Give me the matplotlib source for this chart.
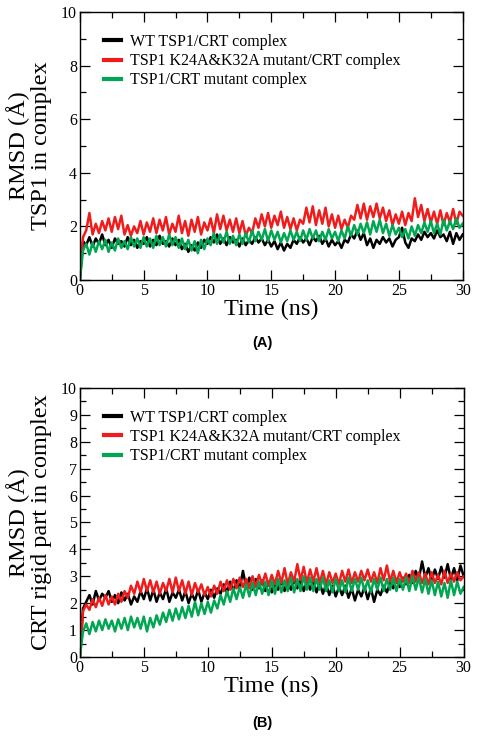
import numpy as np
import matplotlib.pyplot as plt
from matplotlib.ticker import MultipleLocator

# time axis, 0.25 ns steps
time_ns = np.arange(121) * 0.25

labels = ['WT TSP1/CRT complex',
          'TSP1 K24A&K32A mutant/CRT complex',
          'TSP1/CRT mutant complex']

# (A) RMSD of TSP1 in complex
black_a = [
    0.00, 1.45, 1.30, 1.60, 1.25, 1.55, 1.35, 1.70, 1.30, 1.50,
    1.20, 1.55, 1.35, 1.45, 1.25, 1.60, 1.30, 1.50, 1.20, 1.45,
    1.35, 1.60, 1.25, 1.50, 1.30, 1.65, 1.35, 1.45, 1.25, 1.55,
    1.30, 1.50, 1.15, 1.35, 1.05, 1.30, 1.10, 1.40, 1.20, 1.50,
    1.35, 1.60, 1.40, 1.70, 1.35, 1.55, 1.30, 1.60, 1.40, 1.50,
    1.25, 1.55, 1.30, 1.50, 1.35, 1.60, 1.40, 1.55, 1.30, 1.50,
    1.25, 1.45, 1.15, 1.40, 1.10, 1.35, 1.20, 1.50, 1.35, 1.60,
    1.40, 1.55, 1.30, 1.60, 1.45, 1.65, 1.35, 1.55, 1.25, 1.50,
    1.30, 1.45, 1.20, 1.50, 1.40, 1.70, 1.55, 1.85, 1.50, 1.75,
    1.30, 1.55, 1.20, 1.50, 1.35, 1.60, 1.40, 1.55, 1.25, 1.50,
    1.60, 1.95, 1.40, 1.20, 1.55, 1.45, 1.70, 1.50, 1.80, 1.60,
    1.75, 1.55, 1.85, 1.60, 1.70, 1.45, 1.80, 1.35, 1.75, 1.50,
    1.70]
red_a = [
    0.00, 1.60, 1.85, 2.50, 1.70, 2.10, 1.75, 2.20, 1.85, 2.30,
    1.80, 2.35, 1.90, 2.40, 1.70, 2.05, 1.65, 2.00, 1.75, 2.20,
    1.70, 2.15, 1.80, 2.30, 1.75, 2.25, 1.85, 2.35, 1.70, 2.10,
    1.80, 2.40, 1.75, 2.20, 1.65, 2.25, 1.80, 2.35, 1.70, 2.15,
    1.85, 2.30, 1.75, 2.45, 1.90, 2.40, 1.85, 2.25, 1.80, 2.30,
    1.75, 2.20, 1.65, 1.95, 1.75, 2.30, 1.95, 2.45, 2.00, 2.50,
    1.95, 2.40, 2.05, 2.55, 1.95, 2.35, 1.90, 2.30, 1.85, 2.25,
    2.10, 2.70, 2.15, 2.75, 2.05, 2.60, 2.10, 2.70, 2.00, 2.45,
    1.95, 2.40, 1.90, 2.25, 1.95, 2.40, 2.25, 2.80, 2.30, 2.85,
    2.25, 2.75, 2.35, 2.85, 2.30, 2.70, 2.20, 2.60, 2.05, 2.45,
    2.10, 2.55, 2.05, 2.50, 2.20, 3.05, 2.35, 2.80, 2.20, 2.65,
    2.15, 2.55, 2.10, 2.60, 2.05, 2.50, 2.15, 2.65, 2.10, 2.55,
    2.40]
green_a = [
    0.00, 1.10, 1.35, 0.95, 1.40, 1.05, 1.45, 1.15, 1.50, 1.05,
    1.40, 1.10, 1.55, 1.20, 1.45, 1.15, 1.60, 1.25, 1.55, 1.20,
    1.60, 1.25, 1.55, 1.20, 1.65, 1.30, 1.60, 1.25, 1.70, 1.30,
    1.60, 1.20, 1.55, 1.15, 1.50, 1.10, 1.45, 1.00, 1.50, 1.15,
    1.55, 1.30, 1.75, 1.35, 1.70, 1.40, 1.80, 1.35, 1.65, 1.30,
    1.70, 1.35, 1.75, 1.40, 1.85, 1.45, 1.80, 1.50, 1.90, 1.45,
    1.85, 1.50, 1.80, 1.40, 1.75, 1.45, 1.85, 1.50, 1.80, 1.45,
    1.85, 1.50, 1.90, 1.55, 1.85, 1.45, 1.80, 1.50, 1.90, 1.55,
    1.80, 1.45, 1.85, 1.55, 2.00, 1.65, 2.05, 1.70, 2.10, 1.75,
    2.15, 1.70, 2.20, 1.80, 2.25, 1.75, 2.10, 1.65, 2.05, 1.70,
    1.95, 1.60, 1.90, 1.55, 2.00, 1.65, 2.05, 1.75, 2.15, 1.80,
    2.20, 1.75, 2.10, 1.70, 2.25, 1.85, 2.20, 1.90, 2.30, 1.95,
    2.10]

# (B) RMSD of CRT rigid part in complex
black_b = [
    0.00, 1.80, 2.05, 2.30, 1.95, 2.45, 2.10, 2.35, 2.20, 2.45,
    2.05, 2.30, 2.00, 2.40, 2.10, 2.35, 1.95, 2.25, 2.05, 2.45,
    2.15, 2.55, 2.10, 2.50, 2.05, 2.40, 2.15, 2.55, 2.05, 2.40,
    2.20, 2.50, 2.10, 2.45, 2.00, 2.35, 2.10, 2.50, 2.05, 2.40,
    2.15, 2.50, 2.20, 2.55, 2.35, 2.70, 2.40, 2.80, 2.45, 2.85,
    2.55, 3.20, 2.60, 2.95, 2.50, 2.90, 2.55, 2.85, 2.45, 2.80,
    2.40, 2.75, 2.50, 2.85, 2.45, 2.80, 2.50, 2.90, 2.55, 2.85,
    2.45, 2.80, 2.50, 2.85, 2.40, 2.75, 2.35, 2.70, 2.30, 2.65,
    2.25, 2.60, 2.30, 2.65, 2.20, 2.55, 2.10, 2.50, 2.25, 2.60,
    2.15, 2.55, 2.05, 2.50, 2.30, 2.65, 2.40, 2.75, 2.55, 2.90,
    2.60, 2.95, 2.70, 3.05, 2.75, 3.20, 2.90, 3.55, 2.95, 3.30,
    2.85, 3.25, 2.90, 3.35, 2.95, 3.45, 2.90, 3.30, 2.85, 3.40,
    3.00]
red_b = [
    0.00, 1.70, 1.95, 1.75, 2.15, 1.85, 2.20, 1.90, 2.30, 1.95,
    2.25, 1.95, 2.35, 2.05, 2.45, 2.20, 2.65, 2.35, 2.80, 2.40,
    2.90, 2.45, 2.85, 2.40, 2.80, 2.35, 2.75, 2.45, 2.90, 2.40,
    2.95, 2.45, 2.85, 2.35, 2.80, 2.30, 2.75, 2.40, 2.70, 2.30,
    2.60, 2.25, 2.65, 2.35, 2.80, 2.45, 2.85, 2.50, 2.90, 2.55,
    2.95, 2.60, 2.90, 2.55, 3.00, 2.60, 3.05, 2.70, 3.10, 2.65,
    3.05, 2.70, 3.20, 2.75, 3.30, 2.70, 3.15, 2.80, 3.45, 2.85,
    3.35, 2.75, 3.25, 2.80, 3.30, 2.75, 3.20, 2.70, 3.15, 2.75,
    3.10, 2.70, 3.20, 2.80, 3.25, 2.75, 3.15, 2.80, 3.20, 2.85,
    3.25, 2.80, 3.15, 2.75, 3.30, 2.85, 3.40, 2.80, 3.20, 2.75,
    3.15, 2.80, 3.10, 2.75, 3.20, 2.80, 3.15, 2.75, 3.10, 2.70,
    3.15, 2.75, 3.05, 2.70, 3.20, 2.75, 3.10, 2.80, 3.15, 2.85,
    3.00]
green_b = [
    0.00, 0.95, 1.25, 0.85, 1.30, 0.95, 1.35, 1.00, 1.40, 1.05,
    1.35, 0.95, 1.40, 1.05, 1.45, 1.00, 1.50, 1.10, 1.45, 1.05,
    1.50, 0.95, 1.45, 1.10, 1.55, 1.20, 1.65, 1.30, 1.75, 1.35,
    1.80, 1.40, 1.85, 1.45, 1.90, 1.50, 2.05, 1.55, 2.00, 1.60,
    2.05, 1.65, 2.10, 1.80, 2.30, 1.95, 2.45, 2.05, 2.55, 2.15,
    2.60, 2.20, 2.70, 2.25, 2.75, 2.30, 2.80, 2.35, 2.80, 2.30,
    2.85, 2.35, 2.90, 2.40, 2.85, 2.45, 2.95, 2.40, 2.90, 2.45,
    3.00, 2.50, 2.95, 2.45, 2.90, 2.50, 2.95, 2.45, 2.85, 2.40,
    2.90, 2.45, 2.85, 2.40, 2.95, 2.45, 2.90, 2.50, 2.95, 2.45,
    2.85, 2.40, 2.90, 2.50, 2.95, 2.45, 2.90, 2.50, 2.95, 2.45,
    2.90, 2.50, 2.95, 2.45, 3.00, 2.50, 2.95, 2.40, 2.90, 2.35,
    2.85, 2.30, 2.80, 2.25, 2.75, 2.20, 2.85, 2.30, 2.80, 2.35,
    2.60]

colors = ['black', '#f01c1c', '#00a651']
serif = 'Liberation Serif'

fig = plt.figure(figsize=(4.78, 7.38), dpi=100)
ax_a = fig.add_axes([0.167, 0.6206, 0.801, 0.363])
ax_b = fig.add_axes([0.167, 0.1098, 0.803, 0.3645])


def style_axis(ax, ymajor, yminor, ylabel):
    ax.set_xlim(0, 30)
    ax.set_ylim(0, 10)
    ax.xaxis.set_major_locator(MultipleLocator(5))
    ax.xaxis.set_minor_locator(MultipleLocator(2.5))
    ax.yaxis.set_major_locator(MultipleLocator(ymajor))
    ax.yaxis.set_minor_locator(MultipleLocator(yminor))
    ax.tick_params(which='both', direction='in', top=True, right=True,
                   labelsize=11.5, pad=2)
    ax.tick_params(which='major', length=7, width=0.9)
    ax.tick_params(which='minor', length=4, width=0.9)
    for lab in ax.get_xticklabels() + ax.get_yticklabels():
        lab.set_fontfamily(serif)
    for sp in ax.spines.values():
        sp.set_linewidth(1.0)
    ax.set_xlabel('Time (ns)', fontsize=17.5, fontfamily=serif, labelpad=0)
    ax.set_ylabel(ylabel, fontsize=17.5, fontfamily=serif,
                  linespacing=1.05)
    ax.yaxis.set_label_coords(-0.072, 0.5)
    leg = ax.legend(loc='upper left', bbox_to_anchor=(0.025, 0.972),
                    frameon=False, handlelength=1.1, handletextpad=0.55,
                    labelspacing=0.2, prop={'family': serif, 'size': 11.5})
    for h in leg.get_lines():
        h.set_linewidth(3)


for ax, series in [(ax_a, [black_a, red_a, green_a]),
                   (ax_b, [black_b, red_b, green_b])]:
    for vals, c, lab in zip(series, colors, labels):
        ax.plot(time_ns, vals, color=c, lw=1.8, label=lab)

style_axis(ax_a, 2, 1, 'RMSD (Å)\nTSP1 in complex')
style_axis(ax_b, 1, 0.5, 'RMSD (Å)\nCRT rigid part in complex')

fig.text(0.548, 1 - 343 / 738, '(A)', ha='center', va='center',
         fontsize=10.5, fontweight='bold', family='Liberation Sans')
fig.text(0.548, 1 - 723 / 738, '(B)', ha='center', va='center',
         fontsize=10.5, fontweight='bold', family='Liberation Sans')

fig.savefig('out.png', dpi=100)
